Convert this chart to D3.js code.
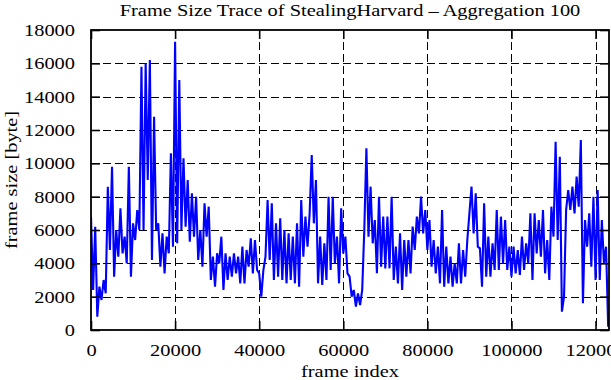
<!DOCTYPE html>
<html>
<head>
<meta charset="utf-8">
<script src="https://cdn.jsdelivr.net/npm/d3@7/dist/d3.min.js"></script>
<style>
  html, body { margin: 0; padding: 0; background: #fff; }
  svg { display: block; }
  text { font-family: "Liberation Serif", "Times New Roman", serif; fill: #000; }
</style>
</head>
<body>
<svg id="chart" width="611" height="380"></svg>
<script>
// ---- data ----
const titleText = "Frame Size Trace of StealingHarvard \u2013 Aggregation 100";
const xLabel = "frame index";
const yLabel = "frame size [byte]";
const xTicks = [0, 20000, 40000, 60000, 80000, 100000, 120000];
const yTicks = [0, 2000, 4000, 6000, 8000, 10000, 12000, 14000, 16000, 18000];
const xMax = 123200;
const yMax = 18000;
const frameStep = 500; // frames between successive samples below
const frameSize = [
  6800, 2400, 6200, 800, 2600, 1800, 3000, 2200, 8600, 4800,
  9800, 3200, 6000, 4400, 7300, 4600, 5600, 4000, 9800, 3200,
  6400, 5400, 7200, 6000, 15800, 6000, 16000, 9000, 16200, 4200,
  12800, 6000, 6400, 3800, 5800, 3400, 5600, 4600, 10600, 5000,
  17300, 5200, 15000, 6000, 10300, 6200, 9000, 5300, 8200, 5600,
  8000, 4200, 6000, 3800, 7600, 5600, 7400, 3000, 4400, 2600,
  4600, 4000, 5600, 2400, 4600, 3000, 4400, 3200, 4600, 3400,
  4400, 2800, 5000, 2800, 4800, 3800, 5500, 3400, 5400, 3600,
  3400, 2000, 3600, 4400, 7800, 4200, 7600, 3000, 6400, 3200,
  6700, 3000, 6000, 2800, 5800, 3000, 5600, 2800, 6400, 2600,
  7800, 4400, 6800, 5000, 7000, 10500, 6400, 9000, 2800, 5600,
  2700, 5200, 3000, 8000, 3600, 8000, 4000, 5600, 2800, 7300,
  4600, 5600, 3400, 3200, 2000, 2400, 1400, 2200, 1500, 2400,
  6000, 10900, 5600, 8600, 5200, 6600, 3400, 8000, 3800, 6800,
  3700, 6800, 3700, 8000, 3000, 5000, 2800, 5800, 2400, 5400,
  3200, 5400, 3400, 6200, 4800, 6800, 5800, 8000, 5800, 7200,
  4800, 6600, 3800, 5400, 3400, 5000, 2800, 7200, 2600, 5000,
  2800, 4400, 2600, 4000, 2800, 5200, 2800, 4800, 3200, 5400,
  7000, 8600, 5800, 8200, 5000, 4900, 2600, 7600, 3200, 5600,
  3200, 5200, 3600, 7200, 3600, 6800, 4000, 6600, 3600, 5000,
  3200, 5000, 3400, 4800, 3300, 5600, 3600, 5200, 4000, 7000,
  3000, 7000, 4600, 6600, 4400, 7200, 3400, 5400, 3000, 7400,
  5600, 11300, 5400, 10400, 1100, 2000, 7200, 8400, 7200, 8600,
  7000, 9200, 7400, 11400, 1600, 6600, 5000, 7000, 3800, 8000,
  3000, 8400, 3000, 6600, 4000, 5000, 200
];

// ---- layout ----
const margin = { left: 91, top: 30, right: 2, bottom: 50 };
const plotW = 609 - margin.left;
const plotH = 330 - margin.top;
const stretch = 1.2;

const svg = d3.select("#chart");
const x = d3.scaleLinear().domain([0, xMax]).range([margin.left, margin.left + plotW]);
const y = d3.scaleLinear().domain([0, yMax]).range([margin.top + plotH, margin.top]);

function stretchText(sel) {
  sel.each(function () {
    const len = this.getComputedTextLength();
    d3.select(this).attr("textLength", len * stretch).attr("lengthAdjust", "spacingAndGlyphs");
  });
}

// clip
svg.append("defs").append("clipPath").attr("id", "clip")
  .append("rect").attr("x", margin.left).attr("y", margin.top)
  .attr("width", plotW).attr("height", plotH);

// grid
const grid = svg.append("g").attr("stroke", "#000").attr("stroke-width", 1)
  .attr("stroke-dasharray", "8,4").attr("shape-rendering", "crispEdges");
grid.selectAll("line.h").data(yTicks.filter(d => d > 0 && d < yMax)).join("line")
  .attr("x1", margin.left).attr("x2", margin.left + plotW)
  .attr("y1", d => Math.round(y(d)) + 0.5).attr("y2", d => Math.round(y(d)) + 0.5);
grid.selectAll("line.v").data(xTicks.filter(d => d > 0)).join("line")
  .attr("y1", margin.top).attr("y2", margin.top + plotH)
  .attr("x1", d => Math.round(x(d)) + 0.5).attr("x2", d => Math.round(x(d)) + 0.5);

// data line
const line = d3.line().x((d, i) => x(i * frameStep)).y(d => y(d));
svg.append("path").datum(frameSize)
  .attr("clip-path", "url(#clip)")
  .attr("fill", "none").attr("stroke", "#0000ff").attr("stroke-width", 2.1)
  .attr("stroke-linejoin", "miter").attr("d", line);

// axes (inside ticks)
const tickLen = 9;
const axB = svg.append("g").attr("transform", `translate(0,${margin.top + plotH})`)
  .call(d3.axisBottom(x).tickValues(xTicks).tickSize(-tickLen).tickPadding(tickLen + 5).tickFormat(d3.format("d")));
const axT = svg.append("g").attr("transform", `translate(0,${margin.top})`)
  .call(d3.axisTop(x).tickValues(xTicks).tickSize(-tickLen).tickFormat(""));
const axL = svg.append("g").attr("transform", `translate(${margin.left},0)`)
  .call(d3.axisLeft(y).tickValues(yTicks).tickSize(-tickLen).tickPadding(tickLen + 7).tickFormat(d3.format("d")));
const axR = svg.append("g").attr("transform", `translate(${margin.left + plotW},0)`)
  .call(d3.axisRight(y).tickValues(yTicks).tickSize(-tickLen).tickFormat(""));
[axB, axT, axL, axR].forEach(a => {
  a.select(".domain").remove();
  a.selectAll(".tick line").attr("stroke", "#000").attr("stroke-width", 1.6);
  a.selectAll("text").attr("font-size", 17).attr("font-family", "Liberation Serif, Times New Roman, serif").attr("fill", "#000");
});
axB.selectAll("text").attr("dy", "0.7em");
stretchText(axB.selectAll("text"));
stretchText(axL.selectAll("text"));

// frame
svg.append("rect").attr("x", margin.left).attr("y", margin.top)
  .attr("width", plotW).attr("height", plotH)
  .attr("fill", "none").attr("stroke", "#000").attr("stroke-width", 1.8);

// title and labels
svg.append("text").attr("x", margin.left + plotW / 2).attr("y", 16)
  .attr("text-anchor", "middle").attr("font-size", 17).text(titleText).call(stretchText);
svg.append("text").attr("x", margin.left + plotW / 2).attr("y", 377)
  .attr("text-anchor", "middle").attr("font-size", 17).text(xLabel).call(stretchText);
svg.append("text").attr("transform", `translate(17,${margin.top + plotH / 2}) rotate(-90)`)
  .attr("text-anchor", "middle").attr("font-size", 17).text(yLabel).call(stretchText);
</script>
</body>
</html>
